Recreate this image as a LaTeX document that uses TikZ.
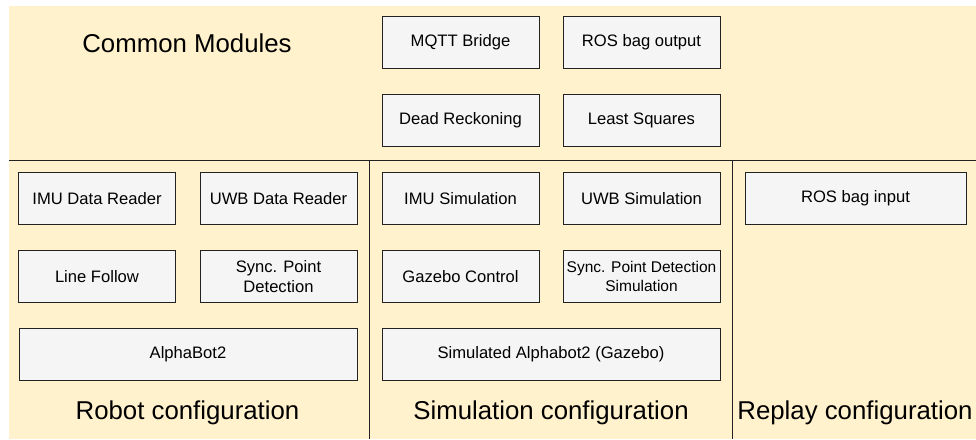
\documentclass[tikz,border=0pt]{standalone}
\usepackage{fontspec}
\setmainfont{Liberation Sans}
\definecolor{panelbg}{HTML}{FFF2CC}
\definecolor{boxfill}{HTML}{F5F5F5}
\definecolor{linecol}{HTML}{222222}
\tikzset{
  module/.style={draw=linecol, fill=boxfill, line width=1pt, rectangle,
    minimum width=157pt, minimum height=52pt, inner sep=0pt, align=center,
    font=\fontsize{16.6}{19.5}\selectfont},
  smallmodule/.style={module, font=\fontsize{15.5}{19.3}\selectfont},
  heading/.style={inner sep=0pt, font=\fontsize{25.8}{30}\selectfont},
  divider/.style={draw=linecol, line width=1pt}
}
\begin{document}
\begin{tikzpicture}[x=1pt, y=-1pt]
\useasboundingbox (0,0) rectangle (976,439);
% background panel
\fill[panelbg] (9,6) rectangle (976,439);
% section dividers
\coordinate (hl) at (9,160);
\coordinate (hr) at (976,160);
\coordinate (v1t) at (369,160);
\coordinate (v1b) at (369,439);
\coordinate (v2t) at (732,160);
\coordinate (v2b) at (732,439);
\draw[divider] (hl) -- (hr);
\draw[divider] (v1t) -- (v1b);
\draw[divider] (v2t) -- (v2b);

% common modules
\node[heading] (common) at (187,43) {Common Modules};
\node[module] (mqtt) at (460.5,42) {MQTT Bridge};
\node[module] (bagout) at (641.5,42) {ROS bag output};
\node[module] (dead) at (460.5,120) {Dead Reckoning};
\node[module] (lsq) at (641.5,120) {Least Squares};

% robot configuration
\node[module] (imudr) at (97,198.5) {IMU Data Reader};
\node[module] (uwbdr) at (278.5,198.5) {UWB Data Reader};
\node[module] (line) at (97,276.5) {Line Follow};
\node[module] (sync) at (278.5,276.5) {Sync. Point\\Detection};
\node[module, minimum width=338pt] (alpha) at (188,354.5) {AlphaBot2};
\node[heading] (robot) at (187.5,413) {Robot configuration};

% simulation configuration
\node[module] (imusim) at (460.5,198.5) {IMU Simulation};
\node[module] (uwbsim) at (641.5,198.5) {UWB Simulation};
\node[module] (gazebo) at (460.5,276.5) {Gazebo Control};
\node[smallmodule] (syncsim) at (641.5,276.5) {Sync. Point Detection\\Simulation};
\node[module, minimum width=338pt] (simalpha) at (551,354.5) {Simulated Alphabot2 (Gazebo)};
\node[heading] (simcfg) at (551,413) {Simulation configuration};

% replay configuration
\node[module, minimum width=221pt] (bagin) at (855.5,198.5) {ROS bag input};
\node[heading] (replay) at (855,413) {Replay configuration};
\end{tikzpicture}
\end{document}
